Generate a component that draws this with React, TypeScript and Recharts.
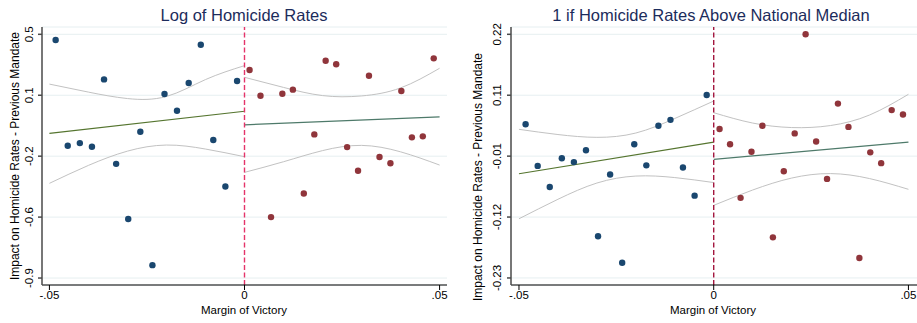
import React from "react";
import { CartesianGrid, ComposedChart, Line, ReferenceLine, Scatter, XAxis, YAxis } from "recharts";

// x axis shared by both panels
const xTicks = [-0.05, 0, 0.05];
const xTickLabels = ["-.05", "0", ".05"];
const ciGridLeft = [-0.05, -0.04, -0.03, -0.02, -0.01, 0];
const ciGridRight = [0, 0.01, 0.02, 0.03, 0.04, 0.05];

// panel 1: log of homicide rates
const logTicks = [-0.9, -0.55, -0.2, 0.15, 0.5];
const logTickLabels = ["-0.9", "-0.6", "-0.2", "0.1", "0.5"];
const logBelowX = [-0.0484, -0.0453, -0.0422, -0.0391, -0.036, -0.0329, -0.0298, -0.0267, -0.0236, -0.0205, -0.0173, -0.0143, -0.0112, -0.008, -0.0049, -0.0019];
const logBelowY = [0.467, -0.14, -0.125, -0.146, 0.241, -0.244, -0.561, -0.06, -0.826, 0.157, 0.061, 0.22, 0.44, -0.107, -0.374, 0.232];
const logAboveX = [0.0013, 0.0041, 0.0068, 0.0097, 0.0124, 0.0152, 0.0179, 0.0208, 0.0235, 0.0263, 0.0291, 0.0319, 0.0346, 0.0374, 0.0402, 0.0429, 0.0457, 0.0485];
const logAboveY = [0.295, 0.147, -0.55, 0.159, 0.182, -0.414, -0.075, 0.348, 0.328, -0.148, -0.284, 0.262, -0.205, -0.241, 0.174, -0.092, -0.086, 0.362];
const logFitBelow = [-0.069, 0.058];
const logFitAbove = [-0.02, 0.026];
const logCiUpBelow = [0.214, 0.168, 0.131, 0.143, 0.24, 0.32];
const logCiLoBelow = [-0.356, -0.253, -0.171, -0.136, -0.159, -0.203];
const logCiUpAbove = [0.253, 0.195, 0.148, 0.146, 0.192, 0.305];
const logCiLoAbove = [-0.293, -0.232, -0.168, -0.138, -0.175, -0.251];

// panel 2: dummy, above national median
const medTicks = [-0.23, -0.1175, -0.005, 0.1075, 0.22];
const medTickLabels = ["-0.23", "-0.12", "-0.01", "0.11", "0.22"];
const medBelowX = [-0.0483, -0.0452, -0.0421, -0.039, -0.0359, -0.0328, -0.0297, -0.0266, -0.0235, -0.0204, -0.0173, -0.0142, -0.0111, -0.0079, -0.0049, -0.0018];
const medBelowY = [0.054, -0.023, -0.062, -0.009, -0.016, 0.006, -0.153, -0.039, -0.202, 0.017, -0.022, 0.051, 0.062, -0.026, -0.078, 0.108];
const medAboveX = [0.0015, 0.0042, 0.0069, 0.0097, 0.0125, 0.0152, 0.018, 0.0208, 0.0236, 0.0263, 0.0291, 0.0319, 0.0346, 0.0374, 0.0402, 0.043, 0.0457, 0.0486];
const medAboveY = [0.045, 0.017, -0.082, 0.003, 0.051, -0.155, -0.033, 0.037, 0.22, 0.022, -0.047, 0.092, 0.049, -0.193, 0.002, -0.018, 0.08, 0.072];
const medFitBelow = [-0.0375, 0.021];
const medFitAbove = [-0.011, 0.021];
const medCiUpBelow = [0.0445, 0.0349, 0.0297, 0.0377, 0.0645, 0.0968];
const medCiLoBelow = [-0.1207, -0.0847, -0.0547, -0.0418, -0.0446, -0.0538];
const medCiUpAbove = [0.0752, 0.0561, 0.0478, 0.0515, 0.0709, 0.1092];
const medCiLoAbove = [-0.0959, -0.0676, -0.0455, -0.0372, -0.0464, -0.0663];

const FONT = "'Liberation Sans', Arial, Helvetica, sans-serif";
const NAVY = "#1a476f";
const MAROON = "#90353b";
const CI_GRAY = "#c2c2c2";

const zip = (xs: number[], ys: number[]) => xs.map((x, i) => ({ x, y: ys[i] }));

type PanelProps = {
  left: number;
  width: number;
  marginRight: number;
  yAxisWidth: number;
  xDomain: [number, number];
  yDomain: [number, number];
  yTicks: number[];
  yTickLabels: string[];
  tickCenterX: number;
  dashColor: string;
  below: { x: number; y: number }[];
  above: { x: number; y: number }[];
  fitBelow: number[];
  fitAbove: number[];
  ciUpBelow: number[];
  ciLoBelow: number[];
  ciUpAbove: number[];
  ciLoAbove: number[];
  title: string;
  titleX: number;
  yTitleX: number;
  yTitleY: number;
  xTitleX: number;
};

const Panel = (p: PanelProps) => {
  const renderYTick = (t: any) => {
    const i = p.yTicks.findIndex((v) => Math.abs(v - t.payload.value) < 1e-9);
    const cx = p.tickCenterX;
    return (
      <text
        x={cx}
        y={t.y}
        transform={`rotate(-90 ${cx} ${t.y})`}
        textAnchor="middle"
        dominantBaseline="central"
        fontSize={11.5}
        fontFamily={FONT}
        fill="#000"
      >
        {p.yTickLabels[i]}
      </text>
    );
  };
  const dot = (color: string) => (s: any) => <circle cx={s.cx} cy={s.cy} r={3.2} fill={color} />;
  const line = (key: string, xs: number[], ys: number[], color: string, w: number) => (
    <Line
      key={key}
      data={zip(xs, ys)}
      dataKey="y"
      type="natural"
      stroke={color}
      strokeWidth={w}
      dot={false}
      activeDot={false}
      isAnimationActive={false}
    />
  );

  return (
    <>
      <div style={{ position: "absolute", left: p.left, top: 0 }}>
        <ComposedChart
          width={p.width}
          height={323}
          margin={{ top: 27, right: p.marginRight, bottom: 0, left: 0 }}
          style={{ fontFamily: FONT }}
        >
          <CartesianGrid vertical={false} stroke="#e6eff1" strokeWidth={1} />
          <XAxis
            type="number"
            dataKey="x"
            domain={p.xDomain}
            allowDataOverflow
            ticks={xTicks}
            interval={0}
            height={38}
            tickSize={5}
            tickMargin={1}
            stroke="#000"
            tick={{ fontSize: 11.5, fill: "#000", fontFamily: FONT }}
            tickFormatter={(v: number) => xTickLabels[xTicks.findIndex((t) => Math.abs(t - v) < 1e-9)]}
          />
          <YAxis
            type="number"
            dataKey="y"
            domain={p.yDomain}
            allowDataOverflow
            ticks={p.yTicks}
            interval={0}
            width={p.yAxisWidth}
            tickSize={4}
            stroke="#4a4a4a"
            strokeWidth={1.5}
            tick={renderYTick}
          />
          {line("ciub", ciGridLeft, p.ciUpBelow, CI_GRAY, 1)}
          {line("cilb", ciGridLeft, p.ciLoBelow, CI_GRAY, 1)}
          {line("ciua", ciGridRight, p.ciUpAbove, CI_GRAY, 1)}
          {line("cila", ciGridRight, p.ciLoAbove, CI_GRAY, 1)}
          {line("fitb", [-0.05, 0], p.fitBelow, "#55752f", 1.2)}
          {line("fita", [0, 0.05], p.fitAbove, "#4e7a6a", 1.2)}
          <ReferenceLine x={0} stroke={p.dashColor} strokeWidth={1.4} strokeDasharray="5 2.5" />
          <Scatter data={p.below} dataKey="y" fill={NAVY} shape={dot(NAVY)} isAnimationActive={false} />
          <Scatter data={p.above} dataKey="y" fill={MAROON} shape={dot(MAROON)} isAnimationActive={false} />
        </ComposedChart>
      </div>
      <div
        style={{
          position: "absolute",
          left: p.titleX - 250,
          top: 5,
          width: 500,
          textAlign: "center",
          fontSize: 16.5,
          lineHeight: "20px",
          color: "#1c2c5c",
          fontFamily: FONT,
          whiteSpace: "nowrap",
        }}
      >
        {p.title}
      </div>
      <div
        style={{
          position: "absolute",
          left: p.yTitleX - 160,
          top: p.yTitleY - 7,
          width: 320,
          height: 14,
          lineHeight: "14px",
          textAlign: "center",
          fontSize: 12,
          fontFamily: FONT,
          color: "#000",
          whiteSpace: "nowrap",
          transform: "rotate(-90deg)",
        }}
      >
        Impact on Homicide Rates - Previous Mandate
      </div>
      <div
        style={{
          position: "absolute",
          left: p.xTitleX - 100,
          top: 303,
          width: 200,
          lineHeight: "14px",
          textAlign: "center",
          fontSize: 11.5,
          fontFamily: FONT,
          color: "#000",
        }}
      >
        Margin of Victory
      </div>
    </>
  );
};

export default function App() {
  return (
    <div style={{ position: "absolute", left: 0, top: 0, width: 917, height: 323, background: "#fff", overflow: "hidden" }}>
      <Panel
        left={0}
        width={460}
        marginRight={13}
        yAxisWidth={42}
        xDomain={[-0.0519, 0.0519]}
        yDomain={[-0.94, 0.542]}
        yTicks={logTicks}
        yTickLabels={logTickLabels}
        tickCenterX={29}
        dashColor="#e4346a"
        below={zip(logBelowX, logBelowY)}
        above={zip(logAboveX, logAboveY)}
        fitBelow={logFitBelow}
        fitAbove={logFitAbove}
        ciUpBelow={logCiUpBelow}
        ciLoBelow={logCiLoBelow}
        ciUpAbove={logCiUpAbove}
        ciLoAbove={logCiLoAbove}
        title="Log of Homicide Rates"
        titleX={244}
        yTitleX={15}
        yTitleY={156}
        xTitleX={244}
      />
      <Panel
        left={460}
        width={457}
        marginRight={0}
        yAxisWidth={51}
        xDomain={[-0.05205, 0.0522]}
        yDomain={[-0.243, 0.2335]}
        yTicks={medTicks}
        yTickLabels={medTickLabels}
        tickCenterX={37}
        dashColor="#a3173f"
        below={zip(medBelowX, medBelowY)}
        above={zip(medAboveX, medAboveY)}
        fitBelow={medFitBelow}
        fitAbove={medFitAbove}
        ciUpBelow={medCiUpBelow}
        ciLoBelow={medCiLoBelow}
        ciUpAbove={medCiUpAbove}
        ciLoAbove={medCiLoAbove}
        title="1 if Homicide Rates Above National Median"
        titleX={711}
        yTitleX={478}
        yTitleY={177}
        xTitleX={713}
      />
    </div>
  );
}
